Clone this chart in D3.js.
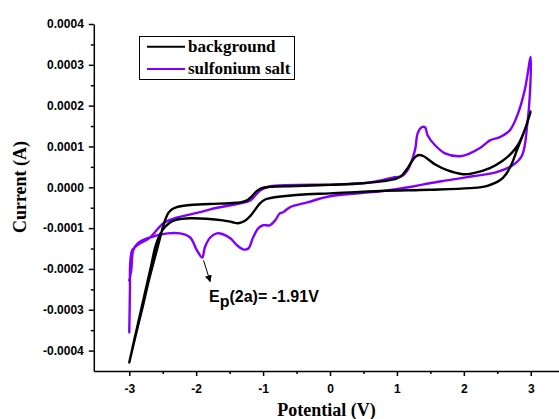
<!DOCTYPE html>
<html>
<head>
<meta charset="utf-8">
<script src="https://cdn.jsdelivr.net/npm/d3@7"></script>
<style>
  html, body { margin: 0; padding: 0; background: #fff; }
  svg { display: block; }
</style>
</head>
<body>
<svg id="chart" width="559" height="419"></svg>
<script>
// Cyclic voltammograms: background electrolyte vs. sulfonium salt
// Potential in V, current in A. Each scan is listed in recording order.

const backgroundPotential = [
  -3.00, -2.90, -2.80, -2.71, -2.63, -2.55, -2.48, -2.42, -2.36, -2.30, -2.13, -1.80, -1.50, -1.34,
  -1.24, -1.17, -1.10, -1.02, -0.90, -0.50, 0.00, 0.50, 0.80, 1.00, 1.08, 1.16, 1.22, 1.28, 1.33,
  1.40, 1.48, 1.58, 1.75, 1.99, 2.13, 2.39, 2.58, 2.72, 2.82, 2.92, 3.00,
  2.93, 2.87, 2.78, 2.72, 2.63, 2.54, 2.34, 2.09, 1.49, 0.75, 0.00, -0.34, -0.70, -0.85, -0.97,
  -1.05, -1.12, -1.19, -1.27, -1.37, -1.47, -1.60, -1.85, -2.09, -2.30, -2.39, -2.47, -2.54,
  -2.61, -2.67, -2.74, -2.83, -2.92, -3.00
];
const backgroundCurrent = [
  -0.000429, -0.000360, -0.000293, -0.000230, -0.000180, -0.000130, -0.000088, -0.000064, -0.000054, -0.000049, -0.000044, -0.000041, -0.000039, -0.000037,
  -0.000032, -0.000022, -0.000010, -0.000002, 0.000001, 0.000003, 0.000006, 0.000010, 0.000015, 0.000022, 0.000030, 0.000047, 0.000063, 0.000075, 0.000079,
  0.000076, 0.000067, 0.000055, 0.000042, 0.000032, 0.000034, 0.000047, 0.000065, 0.000085, 0.000107, 0.000145, 0.000186,
  0.000150, 0.000123, 0.000085, 0.000059, 0.000032, 0.000017, 0.000003, -0.000002, -0.000006, -0.000009, -0.000015, -0.000017, -0.000022, -0.000025, -0.000030,
  -0.000040, -0.000055, -0.000070, -0.000082, -0.000088, -0.000085, -0.000081, -0.000077, -0.000076, -0.000080, -0.000086, -0.000098, -0.000115,
  -0.000145, -0.000190, -0.000240, -0.000305, -0.000370, -0.000429
];

const sulfoniumPotential = [
  -3.00, -2.99, -2.985, -2.955, -2.88, -2.69, -2.49, -2.28, -1.94, -1.79, -1.34, -1.19, -1.04, -0.90,
  0.15, 0.60, 0.97, 1.07, 1.16, 1.27, 1.31, 1.37, 1.42, 1.46, 1.57, 1.72, 1.94, 2.09, 2.24, 2.39,
  2.54, 2.69, 2.81, 2.91, 3.00,
  2.99, 2.95, 2.87, 2.73, 2.49, 2.13, 1.75, 1.49, 1.24, 0.75, 0.00, -0.34, -0.60, -0.70, -0.75,
  -0.82, -0.90, -1.00, -1.07, -1.15, -1.22, -1.30, -1.39, -1.49, -1.60, -1.69, -1.79, -1.87, -1.91,
  -1.99, -2.09, -2.24, -2.43, -2.69, -2.87, -2.94, -2.97, -3.00
];
const sulfoniumCurrent = [
  -0.000355, -0.000252, -0.000184, -0.000154, -0.000142, -0.000123, -0.000088, -0.000074, -0.000061, -0.000054, -0.000039, -0.000032, -0.000007, 0.000002,
  0.000007, 0.000012, 0.000025, 0.000027, 0.000042, 0.000091, 0.000132, 0.000147, 0.000147, 0.000127, 0.000103, 0.000083, 0.000076, 0.000083, 0.000096, 0.000115,
  0.000123, 0.000140, 0.000181, 0.000238, 0.000319,
  0.000238, 0.000157, 0.000078, 0.000054, 0.000037, 0.000027, 0.000017, 0.000010, 0.000002, -0.000010, -0.000022, -0.000037, -0.000049, -0.000061, -0.000064,
  -0.000081, -0.000093, -0.000093, -0.000100, -0.000123, -0.000150, -0.000152, -0.000142, -0.000125, -0.000115, -0.000113, -0.000123, -0.000147, -0.000172,
  -0.000154, -0.000123, -0.000113, -0.000113, -0.000123, -0.000137, -0.000154, -0.000203, -0.000228
];

const seriesNames = ["background", "sulfonium salt"];
const seriesColors = ["#000000", "#8000ff"];

const xTickValues = [-3, -2, -1, 0, 1, 2, 3];
const xTickLabels = ["-3", "-2", "-1", "0", "1", "2", "3"];
const xMinorTicks = [-2.5, -1.5, -0.5, 0.5, 1.5, 2.5];
const yTickValues = [-0.0004, -0.0003, -0.0002, -0.0001, 0, 0.0001, 0.0002, 0.0003, 0.0004];
const yTickLabels = ["-0.0004", "-0.0003", "-0.0002", "-0.0001", "0.0000", "0.0001", "0.0002", "0.0003", "0.0004"];
const yMinorTicks = [-0.00035, -0.00025, -0.00015, -0.00005, 0.00005, 0.00015, 0.00025, 0.00035];

const peakPotential = -1.91;
const peakLabel = "= -1.91V";

// ---- drawing ----
const svg = d3.select("#chart");
const x = d3.scaleLinear().domain([-3.53, 3.5]).range([93.8, 564.2]);
const y = d3.scaleLinear().domain([-0.00045, 0.0004]).range([371, 24]);

const tickFont = "'Liberation Sans', Arial, sans-serif";
const titleFont = "'Liberation Serif', 'Times New Roman', serif";

// curves
const line = d3.line()
  .x(d => x(d[0]))
  .y(d => y(d[1]))
  .curve(d3.curveCatmullRom.alpha(0.5));

const plotData = [
  d3.zip(backgroundPotential, backgroundCurrent),
  d3.zip(sulfoniumPotential, sulfoniumCurrent)
];

svg.append("defs").append("clipPath").attr("id", "plot-clip")
  .append("rect").attr("x", 94).attr("y", 0).attr("width", 470).attr("height", 371);

const curves = svg.append("g").attr("clip-path", "url(#plot-clip)");
// sulfonium salt drawn first, background on top
[1, 0].forEach(i => {
  curves.append("path")
    .datum(plotData[i])
    .attr("d", line)
    .attr("fill", "none")
    .attr("stroke", seriesColors[i])
    .attr("stroke-width", 2.4)
    .attr("stroke-linejoin", "round")
    .attr("stroke-linecap", "round");
});

// axes
function styleAxis(g) {
  g.select(".domain").attr("stroke", "#000").attr("stroke-width", 1.5);
  g.selectAll(".tick line").attr("stroke", "#000").attr("stroke-width", 1.5);
  g.selectAll(".tick text")
    .attr("fill", "#000")
    .style("font-family", tickFont)
    .style("font-size", "12px")
    .style("font-weight", "bold");
}

const xAxis = svg.append("g").attr("transform", "translate(0,371)")
  .call(d3.axisBottom(x).tickValues(xTickValues).tickSize(5).tickSizeOuter(0).tickPadding(8)
    .tickFormat((d, i) => xTickLabels[i]));
styleAxis(xAxis);

const xMinor = svg.append("g").attr("transform", "translate(0,371)")
  .call(d3.axisBottom(x).tickValues(xMinorTicks).tickSize(3).tickSizeOuter(0).tickFormat(""));
xMinor.select(".domain").remove();
xMinor.selectAll(".tick line").attr("stroke", "#000").attr("stroke-width", 1.5);

const yAxis = svg.append("g").attr("transform", "translate(93.8,0)")
  .call(d3.axisLeft(y).tickValues(yTickValues).tickSize(5).tickSizeOuter(0).tickPadding(5)
    .tickFormat((d, i) => yTickLabels[i]));
styleAxis(yAxis);

const yMinor = svg.append("g").attr("transform", "translate(93.8,0)")
  .call(d3.axisLeft(y).tickValues(yMinorTicks).tickSize(3).tickSizeOuter(0).tickFormat(""));
yMinor.select(".domain").remove();
yMinor.selectAll(".tick line").attr("stroke", "#000").attr("stroke-width", 1.5);

// axis titles
svg.append("text")
  .attr("x", 326.5).attr("y", 416)
  .attr("text-anchor", "middle")
  .style("font-family", titleFont).style("font-weight", "bold").style("font-size", "18px")
  .text("Potential (V)");

svg.append("text")
  .attr("transform", "translate(26,187) rotate(-90)")
  .attr("text-anchor", "middle")
  .style("font-family", titleFont).style("font-weight", "bold").style("font-size", "18px")
  .text("Current (A)");

// legend
const legend = svg.append("g");
legend.append("rect")
  .attr("x", 139.5).attr("y", 36.5).attr("width", 155).attr("height", 43)
  .attr("fill", "#fff").attr("stroke", "#000").attr("stroke-width", 1);
seriesNames.forEach((name, i) => {
  const ly = 46.7 + i * 22.3;
  legend.append("line")
    .attr("x1", 147).attr("x2", 185).attr("y1", ly).attr("y2", ly)
    .attr("stroke", seriesColors[i]).attr("stroke-width", 2);
  legend.append("text")
    .attr("x", 188).attr("y", ly + 5.3)
    .style("font-family", titleFont).style("font-weight", "bold").style("font-size", "17px")
    .attr("fill", "#000")
    .text(name);
});

// peak annotation
svg.append("defs").append("marker")
  .attr("id", "arrowhead")
  .attr("viewBox", "0 0 10 10")
  .attr("refX", 9).attr("refY", 5)
  .attr("markerWidth", 7).attr("markerHeight", 7)
  .attr("markerUnits", "userSpaceOnUse")
  .attr("orient", "auto")
  .append("path").attr("d", "M0,0 L10,5 L0,10 Z").attr("fill", "#000");

svg.append("line")
  .attr("x1", x(peakPotential + 0.02)).attr("y1", y(-0.000179))
  .attr("x2", x(-1.79)).attr("y2", y(-0.000231))
  .attr("stroke", "#000").attr("stroke-width", 1)
  .attr("marker-end", "url(#arrowhead)");

const ann = svg.append("text")
  .attr("x", 209).attr("y", 301.5)
  .style("font-family", tickFont).style("font-size", "16px").style("font-weight", "bold")
  .attr("fill", "#000");
ann.append("tspan").text("E");
ann.append("tspan").attr("dy", 5).text("p");
ann.append("tspan").attr("dy", -5).text("(2a)" + peakLabel);
</script>
</body>
</html>
